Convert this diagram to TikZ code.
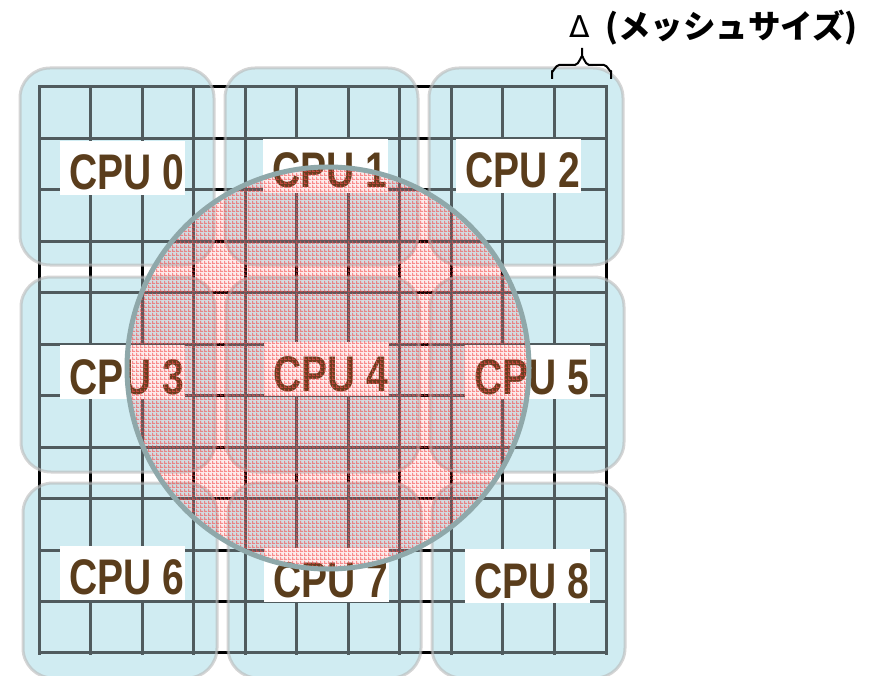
\documentclass[tikz,border=0pt]{standalone}
\usepackage{fontspec}
\usetikzlibrary{patterns.meta}

\newfontfamily\cpufont[FakeStretch=0.78]{Liberation Sans}
\newfontfamily\jpfont{Noto Sans CJK JP}
\newfontfamily\deltafont{DejaVu Sans}

\definecolor{cellblue}{RGB}{208,236,242}
\definecolor{meshgray}{RGB}{80,91,94}
\definecolor{boxedge}{RGB}{185,185,185}
\definecolor{cputext}{RGB}{90,61,28}
\definecolor{ringgray}{RGB}{143,168,170}
\definecolor{meshred}{RGB}{245,75,75}

% fine red gingham used to shade the circular region
\tikzdeclarepattern{
  name=redmesh,
  type=uncolored,
  bottom left={(0pt,0pt)},
  top right={(4pt,4pt)},
  tile size={(4pt,4pt)},
  code={
    \pgfpathrectangle{\pgfpointorigin}{\pgfpoint{4pt}{1.3pt}}
    \pgfpathrectangle{\pgfpointorigin}{\pgfpoint{1.3pt}{4pt}}
    \pgfusepath{fill}
  }
}

\tikzset{
  meshline/.style={line width=3pt, line cap=rect},
  regionedge/.style={draw=boxedge, draw opacity=0.6, line width=3pt, rounded corners=30pt},
  cpulabel/.style={fill=white, inner xsep=0pt, inner ysep=5pt,
    minimum width=125pt, text height=44pt, text depth=0pt,
    text=cputext, font=\cpufont\bfseries\fontsize{50}{50}\selectfont},
}

% 11 x 11 computational mesh
\newcommand\meshlines[1]{%
  \foreach \i in {0,...,11}{
    \draw[meshline, #1] ({39+51.55*\i},87) -- ({39+51.55*\i},653);
    \draw[meshline, #1] (39,{87+51.45*\i}) -- (606,{87+51.45*\i});
  }}

% one CPU's subdomain: blue rounded region with the mesh seen through it
\newcommand\cpuregion[4]{%
  \fill[cellblue, rounded corners=30pt] (#1,#2) rectangle (#3,#4);
  \begin{scope}
    \clip[rounded corners=30pt] (#1,#2) rectangle (#3,#4);
    \meshlines{meshgray}
  \end{scope}}

\begin{document}
\begin{tikzpicture}[x=1pt, y=-1pt]
\useasboundingbox[fill=white] (0,0) rectangle (874,676);

\meshlines{black}

\cpuregion{20}{68}{214}{265}
\cpuregion{225}{68}{418}{265}
\cpuregion{429}{68}{623}{265}
\cpuregion{21}{277}{215}{472}
\cpuregion{226}{277}{419}{472}
\cpuregion{430}{277}{624}{472}
\cpuregion{23}{483}{217}{678}
\cpuregion{228}{483}{421}{678}
\cpuregion{432}{483}{625}{678}

\foreach \a/\b/\c/\d in {20/68/214/265, 225/68/418/265, 429/68/623/265,
  21/277/215/472, 226/277/419/472, 430/277/624/472,
  23/483/217/678, 228/483/421/678, 432/483/625/678}{
  \draw[regionedge] (\a,\b) rectangle (\c,\d);
}

\node[cpulabel] (cpu0) at (122.5,168) {\kern9pt CPU 0};
\node[cpulabel] (cpu1) at (325,166) {\kern9pt CPU 1};
\node[cpulabel] (cpu2) at (518.5,166) {\kern9pt CPU 2};
\node[cpulabel] (cpu3) at (122.5,372) {\kern9pt CPU 3};
\node[cpulabel] (cpu4) at (326,369) {\kern9pt CPU 4};
\node[cpulabel] (cpu5) at (527,372) {\kern9pt CPU 5};
\node[cpulabel] (cpu6) at (122.5,572.5) {\kern9pt CPU 6};
\node[cpulabel] (cpu7) at (326,575) {\kern9pt CPU 7};
\node[cpulabel] (cpu8) at (527.5,576) {\kern9pt CPU 8};

% interaction range around CPU 4
\coordinate (ctr) at (328,368);
\fill[meshred, fill opacity=0.1] (ctr) circle[radius=201pt];
\fill[pattern=redmesh, pattern color=meshred, fill opacity=0.6] (ctr) circle[radius=201pt];
\draw[ringgray, line width=5pt] (ctr) circle[radius=201pt];

% brace over one mesh cell
\draw[line width=2pt, line join=round]
  (552,79) -- (552,71) to[out=-90,in=180] (559,65) -- (575,65)
  to[out=0,in=90] (582,57) -- (582,48)
  (582,57) to[out=90,in=180] (589,65) -- (604,65)
  to[out=0,in=-90] (611,71) -- (611,79);

\node[anchor=base west, inner sep=0pt] (dlt) at (569,38)
  {\deltafont\fontsize{30}{30}\selectfont Δ};
\node[anchor=base west, inner sep=0pt] (msz) at (605,39)
  {\jpfont\bfseries\fontsize{32.5}{32.5}\selectfont (メッシュサイズ)};
\end{tikzpicture}
\end{document}
